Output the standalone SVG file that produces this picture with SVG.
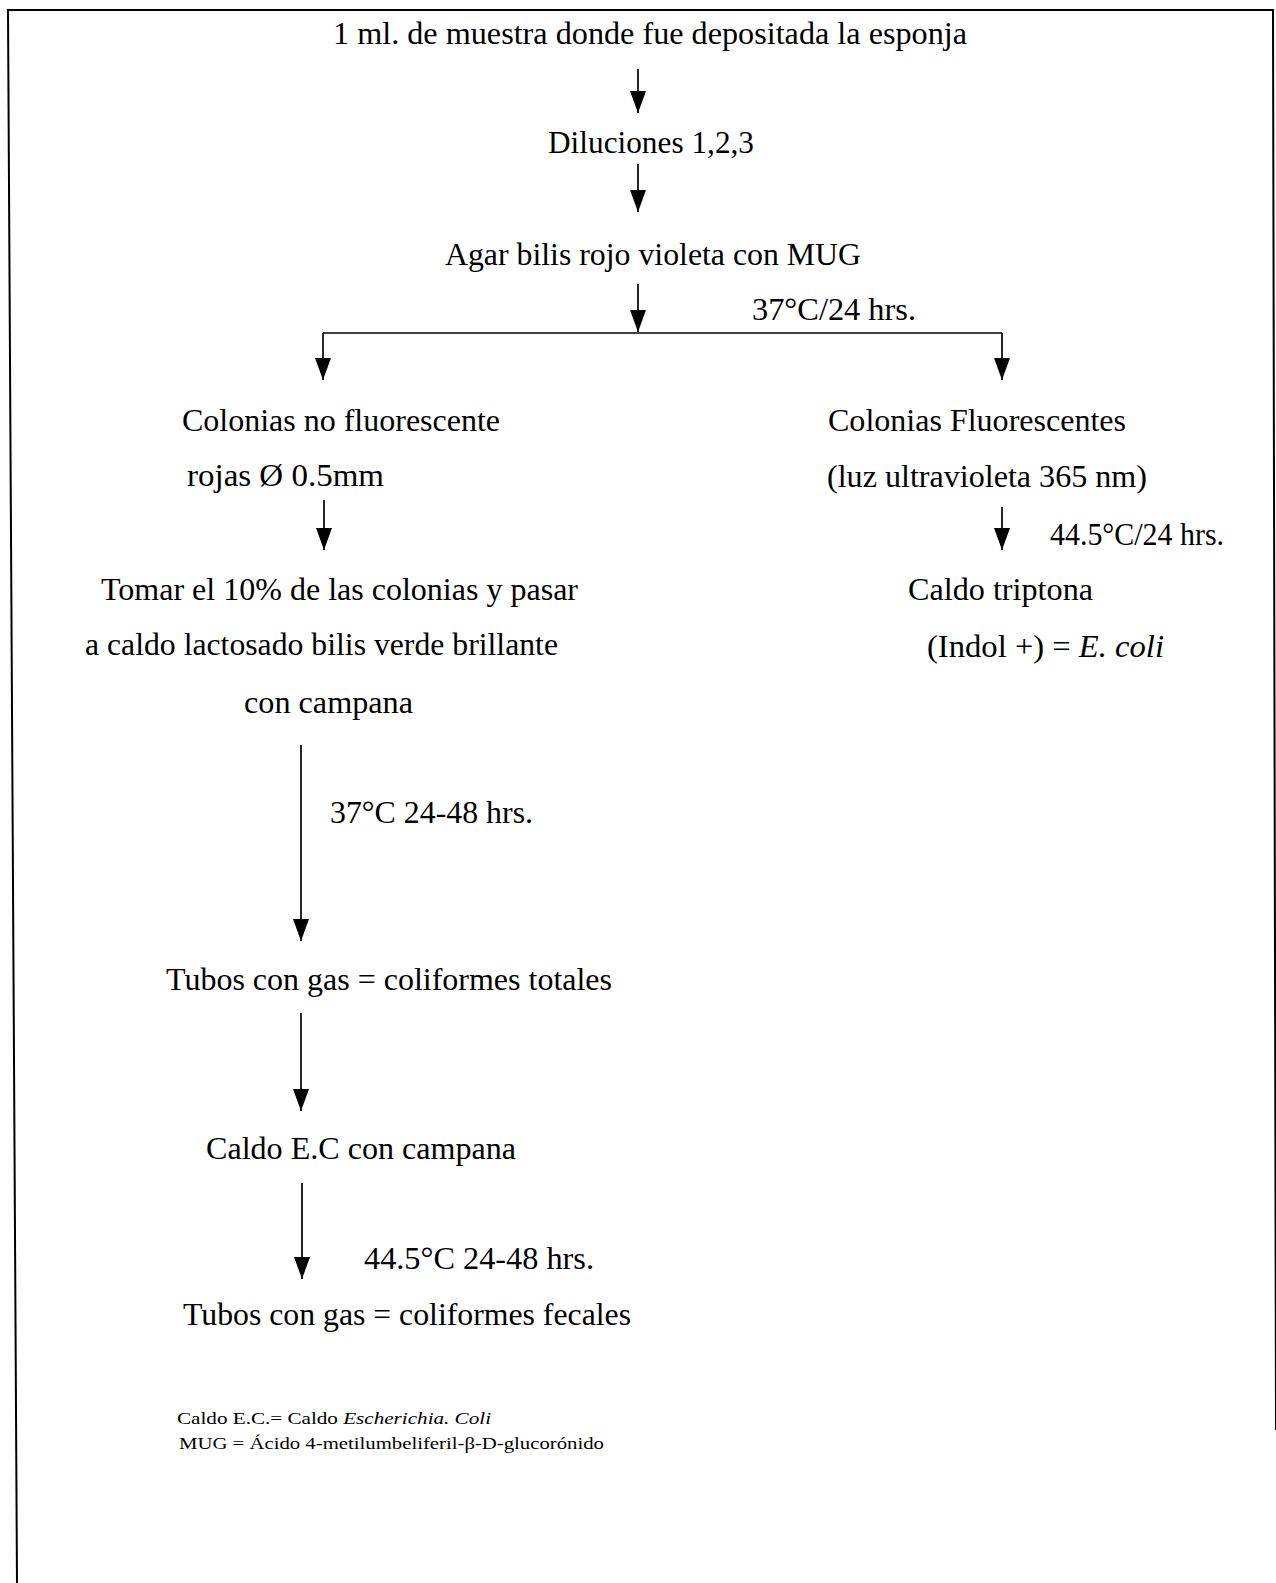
<svg xmlns="http://www.w3.org/2000/svg" width="1276" height="1583" viewBox="0 0 1276 1583">
  <style>
    text { font-family: "Liberation Serif", "Times New Roman", Times, serif; fill: #000; }
    .t { font-size: 32px; }
    .note { font-size: 16px; }
    .edge { stroke: #000; stroke-width: 1.7; fill: none; }
    .arrow { marker-end: url(#head); }
    .frame { stroke: #000; stroke-width: 2; fill: none; }
  </style>
  <defs>
    <marker id="head" viewBox="0 0 22 16" refX="22" refY="8" markerWidth="22" markerHeight="16" markerUnits="userSpaceOnUse" orient="auto">
      <path d="M0,0 L22,8 L0,16 z" fill="#000"/>
    </marker>
  </defs>
  <rect width="1276" height="1583" fill="#fff"/>

  <!-- page frame (open at the bottom) -->
  <path class="frame" d="M17,1583 L8,10 L1273,10 L1276,1430"/>

  <!-- connectors -->
  <g id="connectors">
    <line class="edge arrow" x1="638" y1="69" x2="638" y2="113"/>
    <line class="edge arrow" x1="638" y1="164" x2="638" y2="212"/>
    <line class="edge arrow" x1="638" y1="284" x2="638" y2="332"/>
    <line class="edge" x1="323" y1="333" x2="1002" y2="333"/>
    <line class="edge arrow" x1="323" y1="333" x2="323" y2="380"/>
    <line class="edge arrow" x1="1002" y1="333" x2="1002" y2="380"/>
    <line class="edge arrow" x1="324" y1="500" x2="324" y2="550"/>
    <line class="edge arrow" x1="301" y1="745" x2="301" y2="941"/>
    <line class="edge arrow" x1="301" y1="1013" x2="301" y2="1111"/>
    <line class="edge arrow" x1="302" y1="1183" x2="302" y2="1279"/>
    <line class="edge arrow" x1="1002" y1="507" x2="1002" y2="550"/>
    <text class="t" x="752" y="320" textLength="164" lengthAdjust="spacingAndGlyphs">37°C/24 hrs.</text>
    <text class="t" x="330" y="823" textLength="203" lengthAdjust="spacingAndGlyphs">37°C 24-48 hrs.</text>
    <text class="t" x="364" y="1269" textLength="230" lengthAdjust="spacingAndGlyphs">44.5°C 24-48 hrs.</text>
    <text class="t" x="1050" y="545" textLength="174" lengthAdjust="spacingAndGlyphs">44.5°C/24 hrs.</text>
  </g>

  <g id="muestra">
    <text class="t" x="333" y="44" textLength="634" lengthAdjust="spacingAndGlyphs">1 ml. de muestra donde fue depositada la esponja</text>
  </g>
  <g id="diluciones">
    <text class="t" x="548" y="153" textLength="206" lengthAdjust="spacingAndGlyphs">Diluciones 1,2,3</text>
  </g>
  <g id="agar">
    <text class="t" x="445" y="265" textLength="416" lengthAdjust="spacingAndGlyphs">Agar bilis rojo violeta con MUG</text>
  </g>
  <g id="no-fluorescentes">
    <text class="t" x="182" y="431" textLength="318" lengthAdjust="spacingAndGlyphs">Colonias no fluorescente</text>
    <text class="t" x="187" y="486" textLength="197" lengthAdjust="spacingAndGlyphs">rojas Ø 0.5mm</text>
  </g>
  <g id="fluorescentes">
    <text class="t" x="828" y="431" textLength="298" lengthAdjust="spacingAndGlyphs">Colonias Fluorescentes</text>
    <text class="t" x="827" y="487" textLength="320" lengthAdjust="spacingAndGlyphs">(luz ultravioleta 365 nm)</text>
  </g>
  <g id="lactosado">
    <text class="t" x="101" y="600" textLength="477" lengthAdjust="spacingAndGlyphs">Tomar el 10% de las colonias y pasar</text>
    <text class="t" x="85" y="655" textLength="473" lengthAdjust="spacingAndGlyphs">a caldo lactosado bilis verde brillante</text>
    <text class="t" x="244" y="713" textLength="169" lengthAdjust="spacingAndGlyphs">con campana</text>
  </g>
  <g id="triptona">
    <text class="t" x="908" y="600" textLength="185" lengthAdjust="spacingAndGlyphs">Caldo triptona</text>
    <text class="t" x="927" y="657" textLength="237" lengthAdjust="spacingAndGlyphs">(Indol +) = <tspan font-style="italic">E. coli</tspan></text>
  </g>
  <g id="totales">
    <text class="t" x="166" y="990" textLength="446" lengthAdjust="spacingAndGlyphs">Tubos con gas = coliformes totales</text>
  </g>
  <g id="caldo-ec">
    <text class="t" x="206" y="1159" textLength="310" lengthAdjust="spacingAndGlyphs">Caldo E.C con campana</text>
  </g>
  <g id="fecales">
    <text class="t" x="183" y="1325" textLength="448" lengthAdjust="spacingAndGlyphs">Tubos con gas = coliformes fecales</text>
  </g>

  <g id="notas">
    <text class="note" x="177" y="1424" textLength="314" lengthAdjust="spacingAndGlyphs">Caldo E.C.= Caldo <tspan font-style="italic">Escherichia. Coli</tspan></text>
    <text class="note" x="179" y="1449" textLength="425" lengthAdjust="spacingAndGlyphs">MUG = Ácido 4-metilumbeliferil-β-D-glucorónido</text>
  </g>
</svg>
